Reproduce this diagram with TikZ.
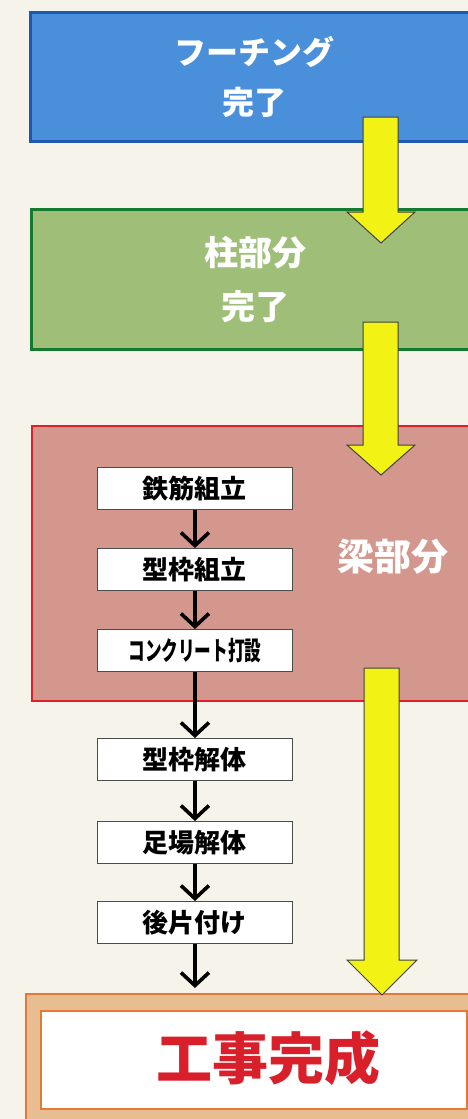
\documentclass[tikz,border=0pt]{standalone}
\usepackage{fontspec}
\newfontfamily\cjk{Noto Sans CJK JP}
\usetikzlibrary{arrows.meta}
\definecolor{paper}{HTML}{F6F3EA}
\definecolor{bfill}{HTML}{4A8FDA}
\definecolor{bline}{HTML}{1E58B0}
\definecolor{gfill}{HTML}{9FBF78}
\definecolor{gline}{HTML}{137A2E}
\definecolor{rfill}{HTML}{D4978D}
\definecolor{rline}{HTML}{E01E2C}
\definecolor{yfill}{HTML}{F2F214}
\definecolor{ofill}{HTML}{E8BD92}
\definecolor{oline}{HTML}{E07A35}
\definecolor{rtext}{HTML}{D81F2A}
\tikzset{
  bigbox/.style={anchor=north west, inner sep=0pt, align=center, text=white},
  stepbox/.style={draw=black!70, line width=0.9pt, fill=white, anchor=north west,
    minimum width=195pt, minimum height=42pt, inner sep=0pt, font=\cjk\bfseries\fontsize{26}{30}\selectfont},
  flow/.style={line width=3.6pt, -{Straight Barb[length=13pt,width=28pt,line width=3.6pt]}},
  yarrow/.style={fill=yfill, draw=black!75, line width=1pt, line join=miter},
}
\begin{document}
\begin{tikzpicture}[x=1pt,y=-1pt]
\useasboundingbox (0,0) rectangle (468,1119);
\clip (0,0) rectangle (468,1119);
\fill[paper] (0,0) rectangle (468,1119);
% main boxes
\node[bigbox, fill=bfill, draw=bline, line width=3pt, minimum width=448pt, minimum height=129pt,
  font=\cjk\bfseries\fontsize{32}{50}\selectfont] (found) at (29,11) {フーチング\\完了};
\node[bigbox, fill=gfill, draw=gline, line width=3pt, minimum width=448pt, minimum height=140pt,
  font=\cjk\bfseries\fontsize{34}{54}\selectfont] (col) at (30,208) {柱部分\\完了};
\node[bigbox, fill=rfill, draw=rline, line width=2.2pt, minimum width=460pt, minimum height=275pt] (beam) at (31,425) {};
\node[text=white, font=\cjk\bfseries\fontsize{37}{40}\selectfont] (beamlbl) at (393,557) {梁部分};
\node[bigbox, fill=ofill, draw=oline, line width=1.5pt, minimum width=470pt, minimum height=140pt] (outer) at (25,993) {};
\node[bigbox, fill=white, draw=oline, line width=1.5pt, minimum width=426pt, minimum height=98pt] (inner) at (40,1010) {};
\node[text=rtext, font=\cjk\bfseries\fontsize{56}{60}\selectfont] (done) at (268,1058) {工事完成};
% steps
\node[stepbox] (s1) at (97,467) {鉄筋組立};
\node[stepbox] (s2) at (97,548) {型枠組立};
\node[stepbox] (s3) at (97,629) {\scalebox{0.64}[1]{コンクリート打設}};
\node[stepbox] (s4) at (97,738) {型枠解体};
\node[stepbox] (s5) at (97,821) {足場解体};
\node[stepbox] (s6) at (97,901) {後片付け};
\coordinate (end) at (s6.south |- 0,988);
\draw[flow] (s1) -- (s2);
\draw[flow] (s2) -- (s3);
\draw[flow] (s3) -- (s4);
\draw[flow] (s4) -- (s5);
\draw[flow] (s5) -- (s6);
\draw[flow] (s6) -- (end);
% yellow block arrows
\draw[yarrow] (363,117) -- (398,117) -- (398,212) -- (415,212) -- (381,243) -- (347,212) -- (363,212) -- cycle;
\draw[yarrow] (363,322) -- (398,322) -- (398,445) -- (415,445) -- (381,475) -- (347,445) -- (363,445) -- cycle;
\draw[yarrow] (364,668) -- (399,668) -- (399,960) -- (417,960) -- (382,995) -- (347,960) -- (364,960) -- cycle;
\end{tikzpicture}
\end{document}
